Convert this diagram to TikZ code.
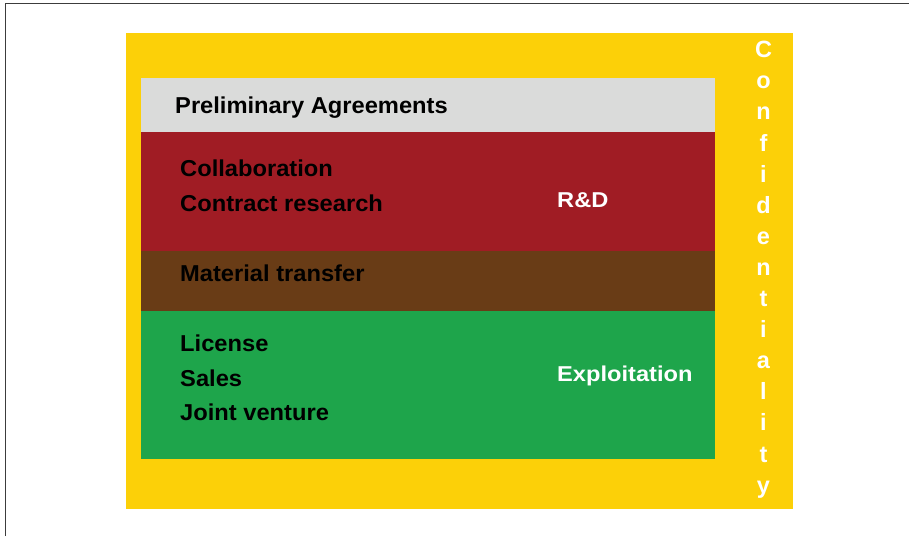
\documentclass[tikz,border=0pt]{standalone}
\usepackage{fontspec}
\usepackage{graphicx}
\setmainfont{Liberation Sans}
\definecolor{cyel}{RGB}{252,208,8}
\definecolor{cgray}{RGB}{218,219,218}
\definecolor{cred}{RGB}{160,28,36}
\definecolor{cbrown}{RGB}{105,60,22}
\definecolor{cgreen}{RGB}{30,165,75}
\definecolor{cframe}{RGB}{60,60,60}
\newcommand\sx[1]{\scalebox{1.03}[1]{#1}}
\newcommand\swx[1]{\scalebox{1.1}[1]{#1}}
\begin{document}
\begin{tikzpicture}[x=1pt,y=-1pt,
  txt/.style={anchor=base west, inner sep=0pt, text=black, font=\bfseries\fontsize{23}{27}\selectfont},
  wtxt/.style={anchor=base west, inner sep=0pt, text=white, font=\bfseries\fontsize{21.5}{25}\selectfont},
  vletter/.style={anchor=base, inner sep=0pt, text=white, font=\bfseries\fontsize{23.5}{27}\selectfont}]
\useasboundingbox (0,0) rectangle (909,536);
\draw[line width=1pt, cframe] (5,536) -- (5,3) -- (909,3);
\fill[cyel] (126,33) rectangle (793,509);
\fill[cgray] (141,78) rectangle (715,132);
\fill[cred] (141,132) rectangle (715,251);
\fill[cbrown] (141,251) rectangle (715,311);
\fill[cgreen] (141,311) rectangle (715,459);
\node[txt] (pa) at (175,113.3) {\sx{Preliminary Agreements}};
\node[txt] (col) at (180,176.7) {\sx{Collaboration}};
\node[txt] (cr) at (180,211.7) {\sx{Contract research}};
\node[wtxt] (rd) at (557,207.3) {\swx{R\&D}};
\node[txt] (mt) at (180,281.7) {\sx{Material transfer}};
\node[txt] (lic) at (180,351.7) {\sx{License}};
\node[txt] (sal) at (180,386.7) {\sx{Sales}};
\node[txt] (jv) at (180,420.7) {\sx{Joint venture}};
\node[wtxt] (ex) at (557,381) {\swx{Exploitation}};
\foreach \l [count=\i from 0] in {C,o,n,f,i,d,e,n,t,i,a,l,i,t,y}
  \node[vletter] (v\i) at (763.5,{57.7+31.1*\i}) {\l};
\end{tikzpicture}
\end{document}
